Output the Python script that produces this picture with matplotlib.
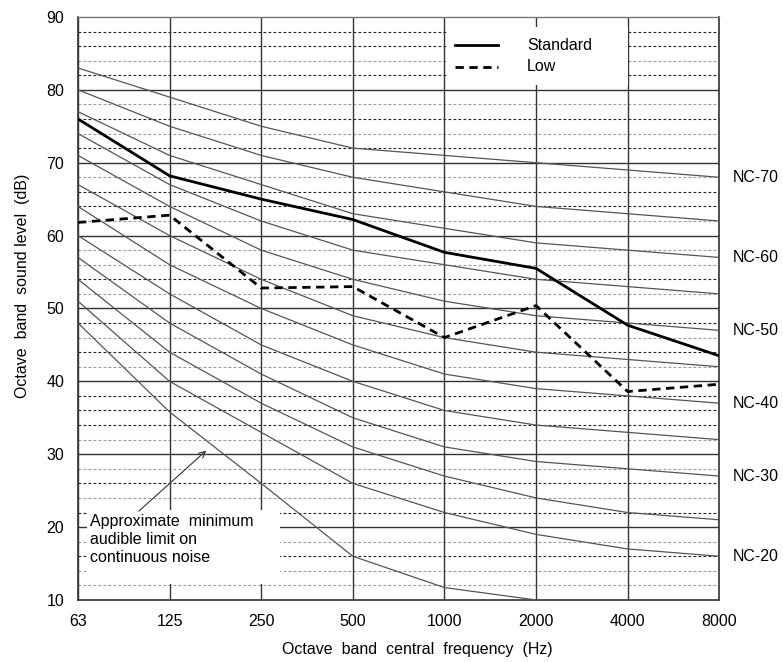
### Modules
import numpy as np
import matplotlib
matplotlib.use('Agg')
from matplotlib import pyplot as plt
from matplotlib.patches import Rectangle

plt.rcParams['font.family'] = ['Liberation Sans', 'DejaVu Sans']

### Data
freqs = ['63', '125', '250', '500', '1000', '2000', '4000', '8000']

nc_levels = [20, 25, 30, 35, 40, 45, 50, 55, 60, 65, 70]
nc_20 = [51, 40, 33, 26, 22, 19, 17, 16]
nc_25 = [54, 44, 37, 31, 27, 24, 22, 21]
nc_30 = [57, 48, 41, 35, 31, 29, 28, 27]
nc_35 = [60, 52, 45, 40, 36, 34, 33, 32]
nc_40 = [64, 56, 50, 45, 41, 39, 38, 37]
nc_45 = [67, 60, 54, 49, 46, 44, 43, 42]
nc_50 = [71, 64, 58, 54, 51, 49, 48, 47]
nc_55 = [74, 67, 62, 58, 56, 54, 53, 52]
nc_60 = [77, 71, 67, 63, 61, 59, 58, 57]
nc_65 = [80, 75, 71, 68, 66, 64, 63, 62]
nc_70 = [83, 79, 75, 72, 71, 70, 69, 68]
nc_curves = [nc_20, nc_25, nc_30, nc_35, nc_40, nc_45,
             nc_50, nc_55, nc_60, nc_65, nc_70]
nc_labelled = [20, 30, 40, 50, 60, 70]

# approximate minimum audible limit (ends at 2000 Hz)
audible_limit = [48, 35.8, 26, 16, 11.7, 10]

standard = [76, 68.2, 65, 62.2, 57.7, 55.5, 47.7, 43.5]
low = [61.8, 62.8, 52.8, 53.0, 46.0, 50.4, 38.6, 39.6]

major_levels = [20, 30, 40, 50, 60, 70, 80]
minor_dark = [88, 86, 82, 76, 72, 66, 64, 54, 48, 44, 38, 36, 34, 26, 22, 16]
minor_light = [84, 78, 74, 68, 62, 58, 56, 52, 46, 42, 32, 28, 24, 18, 14, 12]

x = np.arange(len(freqs))
fs = 11.5

### Figure
fig = plt.figure(figsize=(7.83, 6.62), dpi=100)
ax = fig.add_axes([0.0996, 0.0937, 0.8190, 0.8807])

# grid
ax.hlines(minor_dark, 0, 7, colors='#222222', linestyles=(0, (2.5, 2)), lw=0.8, zorder=1)
ax.hlines(minor_light, 0, 7, colors='#999999', linestyles=(0, (2.5, 2)), lw=0.8, zorder=1)
ax.hlines(major_levels, 0, 7, colors='#333333', lw=1.0, zorder=1)
ax.vlines(x, 10, 90, colors='#333333', lw=1.0, zorder=1)

# white boxes behind legend and annotation
ax.add_patch(Rectangle((4.03, 80.7), 1.97, 7.9, facecolor='white', edgecolor='none', zorder=2))
ax.add_patch(Rectangle((0.1, 12.2), 2.1, 10.2, facecolor='white', edgecolor='none', zorder=2))

# NC curves
for level, curve in zip(nc_levels, nc_curves):
    ax.plot(x, curve, color='#555555', lw=0.9, zorder=3)
    if level in nc_labelled:
        ax.text(7.15, curve[-1], 'NC-%d' % level, fontsize=fs,
                ha='left', va='center', clip_on=False)

ax.plot(x[:len(audible_limit)], audible_limit, color='#555555', lw=0.9, zorder=3)

# measured spectra
ax.plot(x, standard, color='black', lw=2.0, zorder=4)
ax.plot(x, low, color='black', lw=2.0, ls=(0, (3, 2)), zorder=4)

# legend
ax.plot([4.12, 4.58], [86.1, 86.1], color='black', lw=2.0, zorder=4)
ax.plot([4.12, 4.58], [83.2, 83.2], color='black', lw=2.0, ls=(0, (3, 2)), zorder=4)
ax.text(4.9, 86.1, 'Standard', fontsize=fs, ha='left', va='center', zorder=5)
ax.text(4.9, 83.2, 'Low', fontsize=fs, ha='left', va='center', zorder=5)

# annotation
ax.annotate('Approximate  minimum\naudible limit on\ncontinuous noise',
            xy=(1.40, 30.5), xytext=(0.13, 21.8),
            fontsize=fs, ha='left', va='top', linespacing=1.25, zorder=5,
            arrowprops=dict(arrowstyle='->', color='#333333', lw=0.8,
                            shrinkA=0, shrinkB=0, relpos=(0.28, 1.0)))

ax.set_xlim(0, 7)
ax.set_ylim(10, 90)
ax.set_xticks(x)
ax.set_xticklabels(freqs)
ax.set_yticks([10, 20, 30, 40, 50, 60, 70, 80, 90])
ax.tick_params(length=0, labelsize=fs, pad=10)
for side in ['top', 'right', 'left', 'bottom']:
    ax.spines[side].set_color('#333333')
    ax.spines[side].set_linewidth(1.2)
ax.spines['top'].set_color('#777777')
ax.spines['top'].set_linewidth(1.0)

ax.set_xlabel('Octave  band  central  frequency  (Hz)', fontsize=fs)
ax.set_ylabel('Octave  band  sound level  (dB)', fontsize=fs)
ax.xaxis.set_label_coords(0.529, -0.072)
ax.yaxis.set_label_coords(-0.075, 0.539)

plt.savefig('out.png', dpi=100)
